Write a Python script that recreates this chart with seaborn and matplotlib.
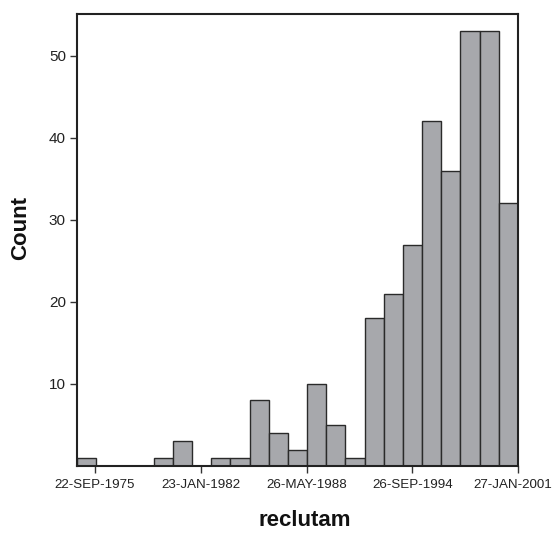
import pandas as pd
import matplotlib
matplotlib.use('Agg')
import matplotlib.pyplot as plt
import matplotlib.dates as mdates
from matplotlib.transforms import ScaledTranslation
import seaborn as sns

inicio_bins = '1974-08-23'
fin_bins = '2001-01-27'
conteos = [1, 0, 0, 0, 1, 3, 0, 1, 1, 8, 4, 2, 10, 5, 1, 18, 21, 27, 42, 36, 53, 53, 32]
fechas_ticks = ['1975-09-22', '1982-01-23', '1988-05-26', '1994-09-26', '2001-01-27']
etiquetas_ticks = ['22-SEP-1975', '23-JAN-1982', '26-MAY-1988', '26-SEP-1994', '27-JAN-2001']
ticks_y = [10, 20, 30, 40, 50]

sns.set_style('ticks')
plt.rcParams['font.family'] = ['Liberation Sans', 'DejaVu Sans']

bordes = mdates.date2num(pd.date_range(inicio_bins, fin_bins, periods=len(conteos) + 1))
centros = (bordes[:-1] + bordes[1:]) / 2
df = pd.DataFrame({'reclutam': centros, 'n': conteos})

fig = plt.figure(figsize=(5.55, 5.36), dpi=100)
ax = fig.add_axes([77 / 555, 70 / 536, 441 / 555, 452 / 536])

sns.histplot(data=df, x='reclutam', weights='n', bins=list(bordes), ax=ax,
             color='#a7a8ac', alpha=1, edgecolor='#2a2a2a', linewidth=1)

ax.set_xlim(bordes[0], bordes[-1])
ax.set_ylim(0, 55.1)
ax.set_xticks(mdates.date2num(pd.to_datetime(fechas_ticks)))
ax.set_xticklabels(etiquetas_ticks)
ax.set_yticks(ticks_y)
ax.tick_params(axis='x', labelsize=9.6, length=5, width=1, color='#333333', labelcolor='#222222', pad=4)
ax.tick_params(axis='y', labelsize=11, length=5, width=1, color='#333333', labelcolor='#222222', pad=3)

# la última etiqueta se corre un poco a la izquierda para que no se corte
ultima = ax.get_xticklabels()[-1]
ultima.set_transform(ultima.get_transform() + ScaledTranslation(-5 / 100, 0, fig.dpi_scale_trans))

for s in ax.spines.values():
    s.set_visible(True)
    s.set_linewidth(1.5)
    s.set_color('#222222')

ax.set_xlabel('reclutam', fontsize=16, fontweight='bold', color='#111111')
ax.set_ylabel('Count', fontsize=16, fontweight='bold', color='#111111')
ax.xaxis.set_label_coords(0.517, -0.098)
ax.yaxis.set_label_coords(-0.105, 0.527)

plt.savefig('out.png', dpi=100)
plt.close()
